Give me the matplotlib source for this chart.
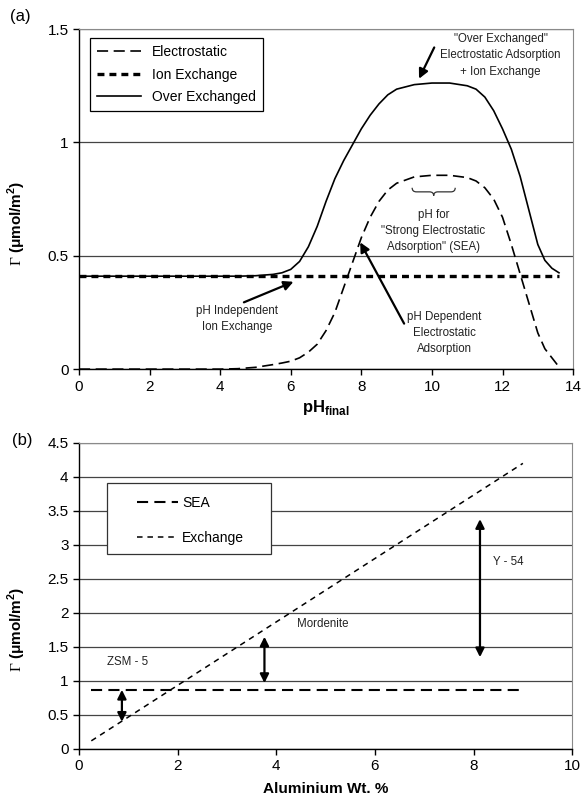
import matplotlib
matplotlib.use("Agg")
import matplotlib.pyplot as plt
from matplotlib.patches import Rectangle, PathPatch
from matplotlib.path import Path

plt.rcParams['font.family'] = ['Liberation Sans', 'DejaVu Sans']
plt.rcParams['mathtext.fontset'] = 'custom'
plt.rcParams['mathtext.rm'] = 'Liberation Serif'
plt.rcParams['mathtext.bf'] = 'Liberation Sans:bold'
plt.rcParams['lines.scale_dashes'] = False

# panel (a): adsorption vs final pH
ph = [0, 1, 2, 3, 4, 4.5, 5, 5.5, 5.75, 6, 6.25, 6.5, 6.75, 7, 7.25, 7.5,
      7.75, 8, 8.25, 8.5, 8.75, 9, 9.5, 10, 10.5, 11, 11.25, 11.5, 11.75,
      12, 12.25, 12.5, 12.75, 13, 13.2, 13.4, 13.6]
electrostatic = [0, 0, 0, 0, 0, 0.002, 0.008, 0.02, 0.027, 0.035, 0.05,
                 0.075, 0.11, 0.17, 0.25, 0.36, 0.47, 0.58, 0.67, 0.74,
                 0.79, 0.82, 0.848, 0.855, 0.855, 0.845, 0.83, 0.80, 0.75,
                 0.67, 0.55, 0.42, 0.29, 0.16, 0.09, 0.05, 0.01]
over_exchanged = [0.41, 0.41, 0.41, 0.41, 0.41, 0.41, 0.412, 0.418, 0.425,
                  0.44, 0.475, 0.54, 0.63, 0.74, 0.84, 0.92, 0.99, 1.06,
                  1.12, 1.17, 1.21, 1.235, 1.255, 1.262, 1.262, 1.25, 1.235,
                  1.20, 1.14, 1.06, 0.97, 0.85, 0.70, 0.55, 0.48, 0.445, 0.425]
ion_ph = [0, 13.6]
ion_exchange = [0.41, 0.41]

# SEA pH window marked by the brace
sea_window = [9.44, 10.66]

# panel (b): adsorption vs aluminium content
al_sea = [0.25, 9.0]
sea = [0.87, 0.87]
al_exch = [0.25, 9.0]
exchange = [0.12, 4.2]

# double arrows (x, low, high) and labels
zeolites = ['ZSM - 5', 'Mordenite', 'Y - 54']
arrow_x = [0.87, 3.76, 8.13]
arrow_lo = [0.40, 0.97, 1.35]
arrow_hi = [0.87, 1.65, 3.38]
label_xy = [(0.99, 1.28), (4.95, 1.84), (8.70, 2.75)]

fig = plt.figure(figsize=(5.83, 7.99), dpi=100)
ax1 = fig.add_axes([0.1355, 0.538, 0.8475, 0.4256])
ax2 = fig.add_axes([0.1355, 0.0626, 0.8460, 0.383])

grid_col = '#444444'
for ax in (ax1, ax2):
    ax.set_axisbelow(True)
    ax.yaxis.grid(True, color=grid_col, lw=0.9)
    ax.spines['top'].set_color('#8a8a8a')
    ax.spines['right'].set_color('#8a8a8a')
    ax.spines['top'].set_linewidth(0.8)
    ax.spines['right'].set_linewidth(0.8)
    ax.spines['left'].set_linewidth(1.0)
    ax.spines['bottom'].set_linewidth(1.0)
    ax.tick_params(labelsize=11, direction='out', length=4, width=1.0)

txt_col = '#222222'

# ---- (a)
ax1.plot(ph, electrostatic, color='black', lw=1.2, ls=(0, (8, 4)), label='Electrostatic')
ax1.plot(ion_ph, ion_exchange, color='black', lw=2.4, ls=(0, (5, 3.6)), label='Ion Exchange')
ax1.plot(ph, over_exchanged, color='black', lw=1.2, label='Over Exchanged')
ax1.set_xlim(0, 14)
ax1.set_ylim(0, 1.5)
ax1.set_xticks(range(0, 15, 2))
ax1.set_yticks([0, 0.5, 1, 1.5])
ax1.set_yticklabels(['0', '0.5', '1', '1.5'])
ax1.set_xlabel(r'$\mathbf{pH}_{\mathbf{final}}$', fontsize=12)
ax1.xaxis.set_label_coords(0.5, -0.085)
ax1.set_ylabel(r'$\Gamma$ (μmol/m$^{\mathbf{2}}$)', fontsize=11, fontweight='bold')
ax1.yaxis.set_label_coords(-0.103, 0.43)
leg = ax1.legend(loc='upper left', bbox_to_anchor=(0.022, 0.973), fontsize=10,
                 handlelength=3.2, labelspacing=0.6, borderpad=0.5,
                 borderaxespad=0, fancybox=False, framealpha=1, edgecolor='black')
leg.get_frame().set_linewidth(0.9)

arrow_kw = dict(arrowstyle='-|>', color='black', lw=1.6, mutation_scale=14)
ax1.annotate('', xy=(9.6, 1.27), xytext=(10.1, 1.43), arrowprops=arrow_kw)
ax1.text(11.95, 1.385, '"Over Exchanged"\nElectrostatic Adsorption\n+ Ion Exchange',
         fontsize=8.3, ha='center', va='center', linespacing=1.5, color=txt_col)

# curly brace over the SEA window
x0, x1 = sea_window
xc = (x0 + x1) / 2
yt, ym, yb = 0.80, 0.782, 0.765
r = 0.12
verts = [(x0, yt), (x0, ym), (x0 + r, ym), (xc - r, ym), (xc, ym), (xc, yb),
         (xc, ym), (xc + r, ym), (x1 - r, ym), (x1, ym), (x1, yt)]
codes = [Path.MOVETO, Path.CURVE3, Path.CURVE3, Path.LINETO, Path.CURVE3, Path.CURVE3,
         Path.CURVE3, Path.CURVE3, Path.LINETO, Path.CURVE3, Path.CURVE3]
ax1.add_patch(PathPatch(Path(verts, codes), facecolor='none', edgecolor='#333333', lw=0.9))

ax1.text(10.04, 0.61, 'pH for\n"Strong Electrostatic\nAdsorption" (SEA)',
         fontsize=8.3, ha='center', va='center', linespacing=1.45, color=txt_col)
ax1.annotate('', xy=(6.15, 0.39), xytext=(4.6, 0.29), arrowprops=arrow_kw)
ax1.text(4.48, 0.22, 'pH Independent\nIon Exchange', fontsize=8.3,
         ha='center', va='center', linespacing=1.45, color=txt_col)
ax1.annotate('', xy=(7.93, 0.57), xytext=(9.25, 0.19), arrowprops=arrow_kw)
ax1.text(10.36, 0.16, 'pH Dependent\nElectrostatic\nAdsorption', fontsize=8.3,
         ha='center', va='center', linespacing=1.45, color=txt_col)

# ---- (b)
ax2.plot(al_sea, sea, color='black', lw=1.5, ls=(0, (8, 4.5)), label='SEA')
ax2.plot(al_exch, exchange, color='black', lw=1.1, ls=(0, (4, 3.5)), label='Exchange')
ax2.set_xlim(0, 10)
ax2.set_ylim(0, 4.5)
ax2.set_xticks(range(0, 11, 2))
ax2.set_yticks([0, 0.5, 1, 1.5, 2, 2.5, 3, 3.5, 4, 4.5])
ax2.set_yticklabels(['0', '0.5', '1', '1.5', '2', '2.5', '3', '3.5', '4', '4.5'])
ax2.set_xlabel('Aluminium Wt. %', fontsize=11, fontweight='bold')
ax2.xaxis.set_label_coords(0.5, -0.108)
ax2.set_ylabel(r'$\Gamma$ (μmol/m$^{\mathbf{2}}$)', fontsize=11, fontweight='bold')
ax2.yaxis.set_label_coords(-0.103, 0.39)

# legend box drawn separately so its padding can match the original
ax2.add_patch(Rectangle((0.0568, 0.637), 0.332, 0.232, transform=ax2.transAxes,
                        facecolor='white', edgecolor='#333333', lw=0.9, zorder=4))
leg2 = ax2.legend(loc='upper left', bbox_to_anchor=(0.118, 0.826), fontsize=10,
                  handlelength=2.95, labelspacing=1.5, borderpad=0,
                  borderaxespad=0, handletextpad=0.3, frameon=False)
leg2.set_zorder(5)

for x, lo, hi in zip(arrow_x, arrow_lo, arrow_hi):
    ax2.annotate('', xy=(x, lo), xytext=(x, hi),
                 arrowprops=dict(arrowstyle='<|-|>', color='black', lw=1.6,
                                 mutation_scale=13, shrinkA=0, shrinkB=0))
for name, (x, y) in zip(zeolites, label_xy):
    ax2.text(x, y, name, fontsize=8.3, ha='center', va='center', color=txt_col)

fig.text(0.017, 0.979, '(a)', fontsize=12, va='center', ha='left')
fig.text(0.02, 0.449, '(b)', fontsize=12, va='center', ha='left')

fig.savefig('out.png', dpi=100)
